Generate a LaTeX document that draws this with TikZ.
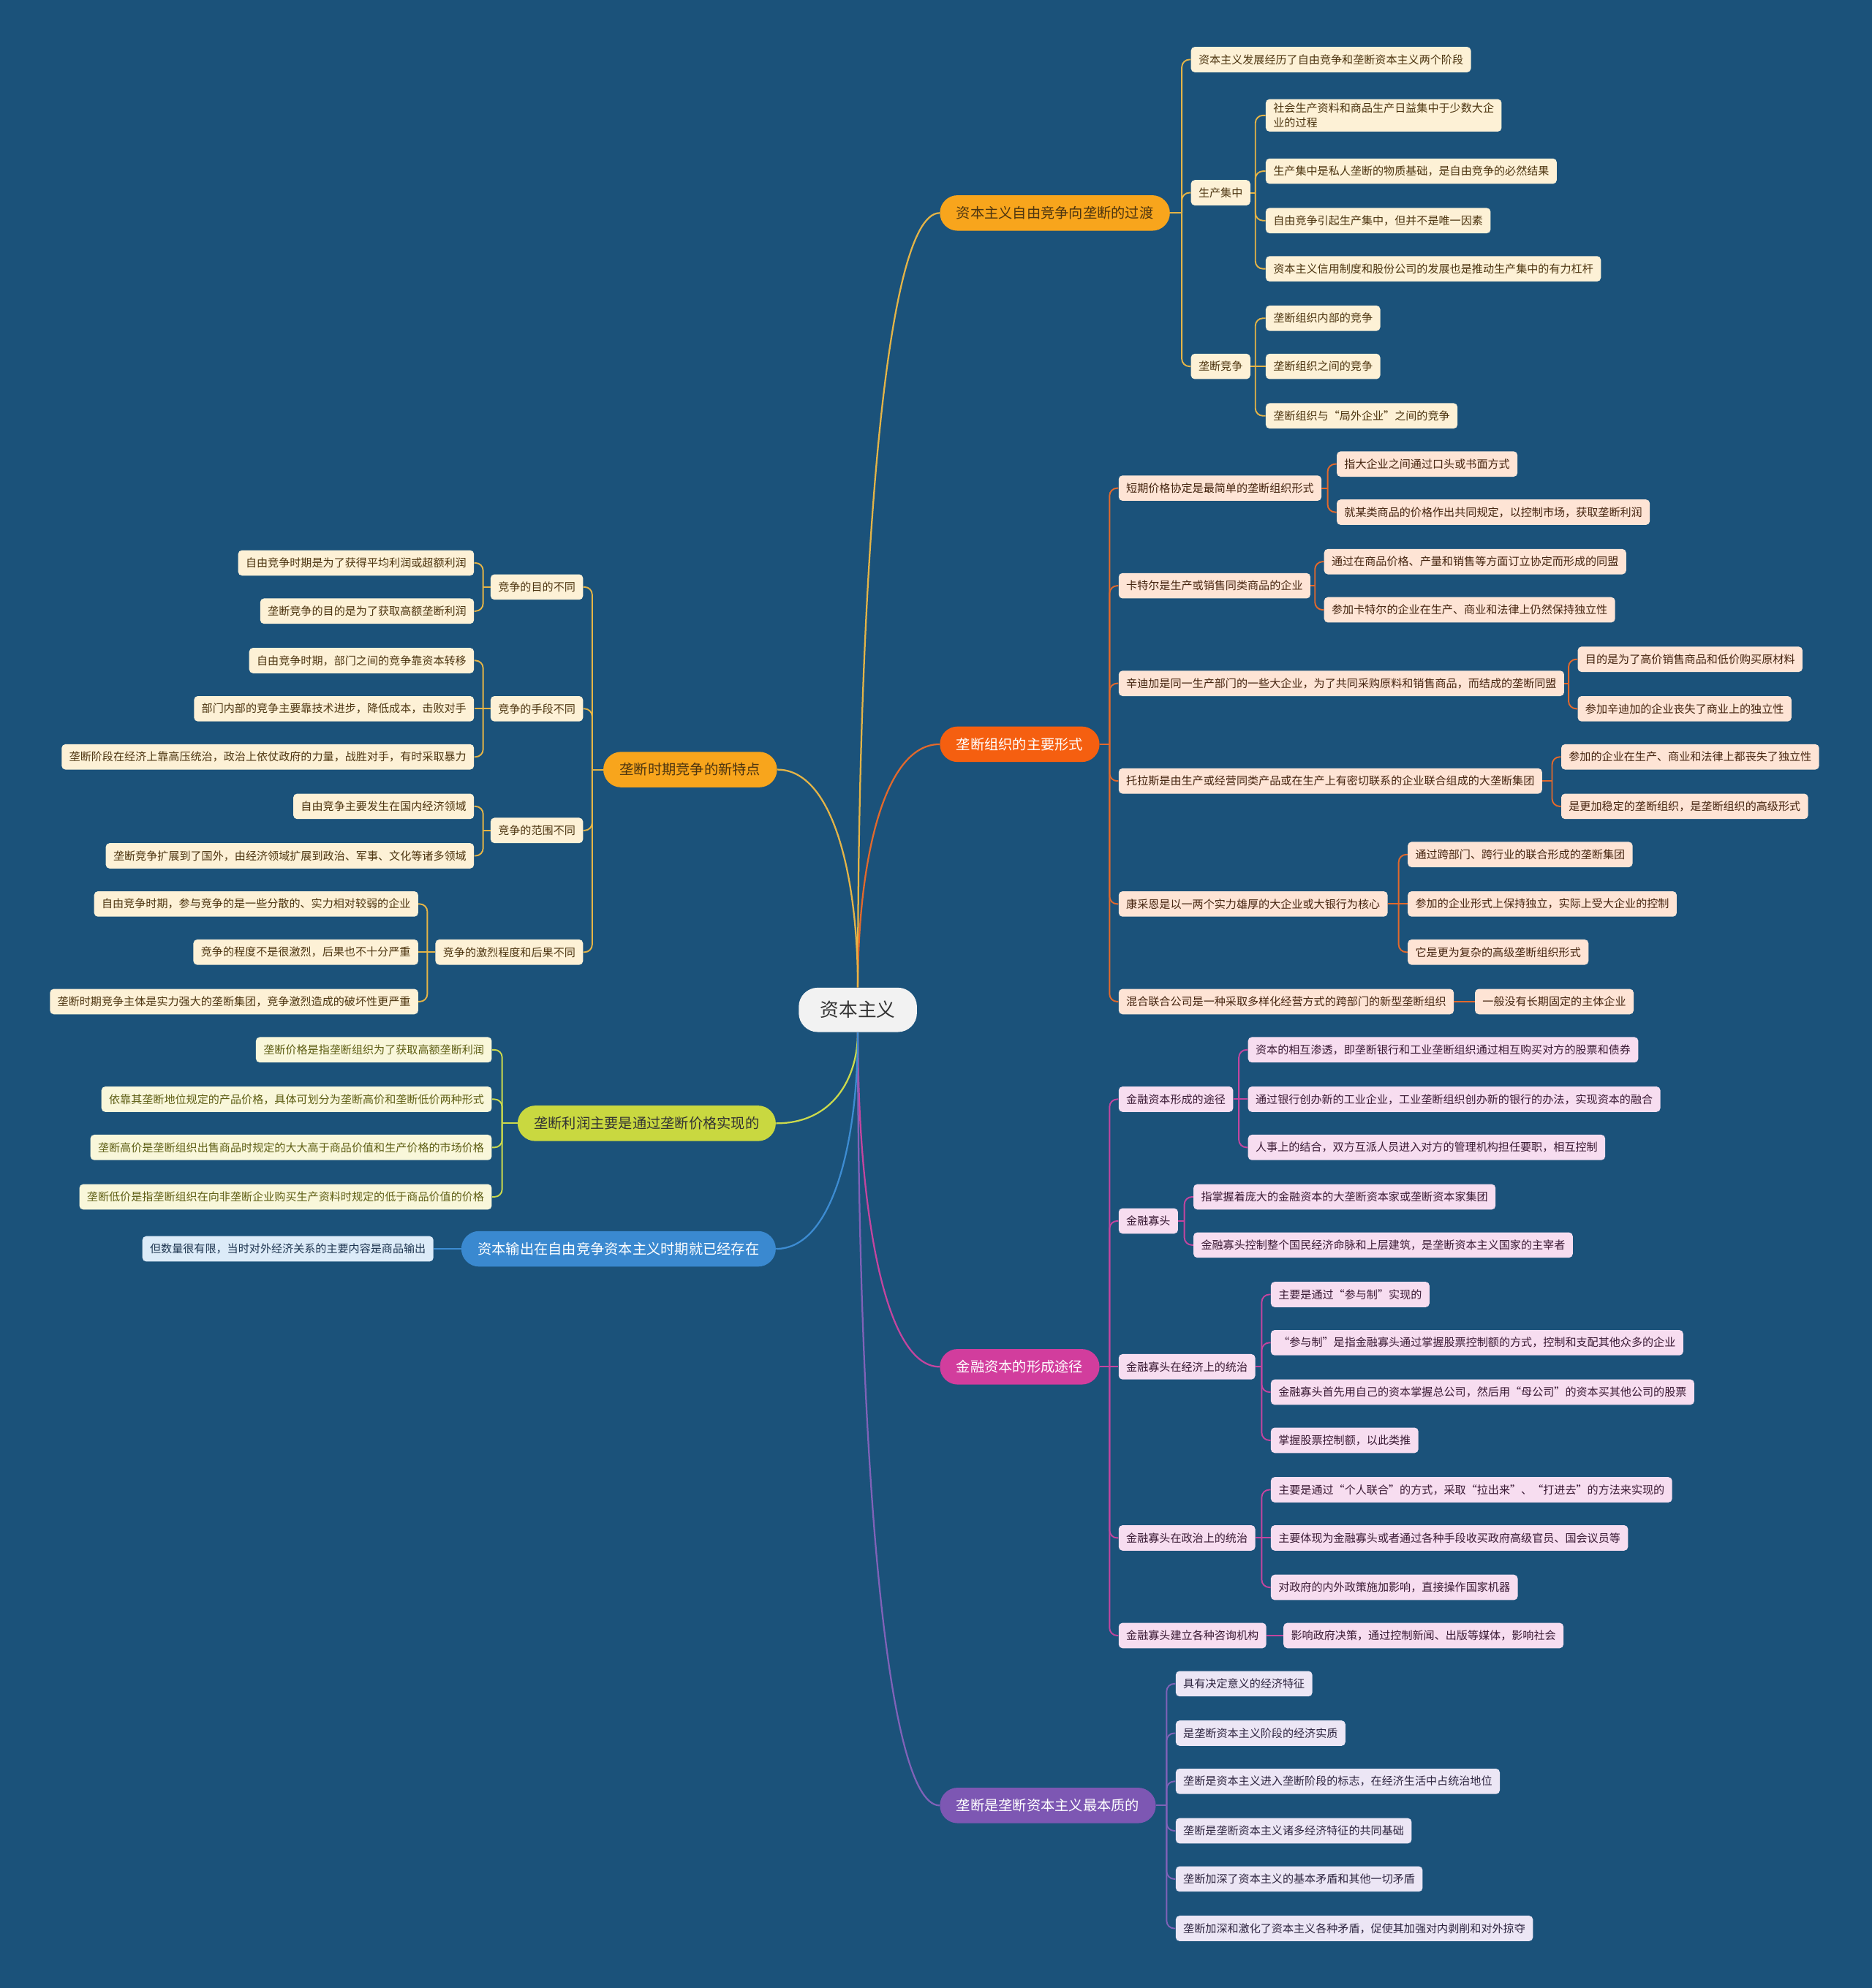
\documentclass[tikz,border=0pt]{standalone}
\usepackage{fontspec}
\newfontfamily\cjk{Noto Sans CJK SC}
\usetikzlibrary{calc}
\definecolor{bg}{HTML}{1B527A}
\definecolor{rootf}{HTML}{F2F2F2}
\definecolor{orf}{HTML}{F8A51C}
\definecolor{orl}{HTML}{E4B447}
\definecolor{orleaf}{HTML}{FDF1D6}
\definecolor{ortx}{HTML}{4D3510}
\definecolor{rdf}{HTML}{F55F10}
\definecolor{rdl}{HTML}{E2692C}
\definecolor{rdleaf}{HTML}{FEE4D5}
\definecolor{rdtx}{HTML}{45240F}
\definecolor{mgf}{HTML}{D23D9D}
\definecolor{mgl}{HTML}{C4459F}
\definecolor{mgleaf}{HTML}{F7DDF0}
\definecolor{mgtx}{HTML}{3A1A34}
\definecolor{puf}{HTML}{7D57B3}
\definecolor{pul}{HTML}{8062B8}
\definecolor{puleaf}{HTML}{ECE6F5}
\definecolor{putx}{HTML}{2E2540}
\definecolor{ygf}{HTML}{C9D840}
\definecolor{ygl}{HTML}{CCDA4C}
\definecolor{ygleaf}{HTML}{F9F7DA}
\definecolor{ygtx}{HTML}{5E5E14}
\definecolor{blf}{HTML}{3A89D0}
\definecolor{bll}{HTML}{3D8CD2}
\definecolor{blleaf}{HTML}{DCEBF8}
\definecolor{bltx}{HTML}{1E3550}
\tikzset{
  leaf/.style={rounded corners=3pt, minimum height=20pt, inner xsep=6pt, inner ysep=3pt,
    font=\cjk\fontsize{8.7pt}{11.5pt}\selectfont, align=left},
  mainb/.style={rounded corners=14pt, minimum height=28pt, inner xsep=13pt,
    font=\cjk\fontsize{11.1pt}{13pt}\selectfont},
  rootb/.style={rounded corners=15pt, minimum height=35pt, inner xsep=17pt, fill=rootf, text=black!80,
    font=\cjk\fontsize{14.8pt}{16pt}\selectfont},
  lkA/.style={draw=orl, line width=1.1pt},
  lkR/.style={draw=rdl, line width=1.1pt},
  lkM/.style={draw=mgl, line width=1.1pt},
  lkP/.style={draw=pul, line width=1.1pt},
  lkY/.style={draw=ygl, line width=1.1pt},
  lkB/.style={draw=bll, line width=1.1pt},
  mA/.style={mainb, fill=orf, text=ortx},
  mR/.style={mainb, fill=rdf, text=white},
  mM/.style={mainb, fill=mgf, text=white},
  mP/.style={mainb, fill=puf, text=white},
  mY/.style={mainb, fill=ygf, text=black!80},
  mB/.style={mainb, fill=blf, text=white},
  lA/.style={leaf, fill=orleaf, text=ortx},
  lR/.style={leaf, fill=rdleaf, text=rdtx},
  lM/.style={leaf, fill=mgleaf, text=mgtx},
  lP/.style={leaf, fill=puleaf, text=putx},
  lY/.style={leaf, fill=ygleaf, text=ygtx},
  lB/.style={leaf, fill=blleaf, text=bltx},
}
\newcommand\mytrunk[3]{\draw[#1, line width=1.3pt] let \p1=(#2), \p2=(#3) in (\p1) .. controls (\x1,{0.5*\y1+0.5*\y2}) and ({0.7*\x1+0.3*\x2},\y2) .. (\p2);}
\newcommand\kidR[4]{\draw[#1] (#2.east) -- (#2.east -| #3); \draw[#1,rounded corners=6pt] (#2.east -| #3) |- (#4.west);}
\newcommand\kidL[4]{\draw[#1] (#2.west) -- (#2.west -| #3); \draw[#1,rounded corners=6pt] (#2.west -| #3) |- (#4.east);}
\newcommand\kidSR[3]{\draw[#1] (#2.east) -- (#3.west);}
\newcommand\kidSL[3]{\draw[#1] (#2.west) -- (#3.east);}
\begin{document}
\begin{tikzpicture}[x=1pt,y=-1pt]
\fill[bg] (0,0) rectangle (1476,1568);
\useasboundingbox (0,0) rectangle (1476,1568);

% root
\node[rootb] (root) at (676.5,796.5) {资本主义};

% ===== Branch 1 =====
\node[mA, anchor=west] (b1) at (741,168) {资本主义自由竞争向垄断的过渡};
\node[lA, anchor=west] (a1) at (939,47) {资本主义发展经历了自由竞争和垄断资本主义两个阶段};
\node[lA, anchor=west] (a2) at (939,152) {生产集中};
\node[lA, anchor=west] (a3) at (939,289) {垄断竞争};
\node[lA, anchor=west] (a21) at (998,91) {社会生产资料和商品生产日益集中于少数大企\\业的过程};
\node[lA, anchor=west] (a22) at (998,135) {生产集中是私人垄断的物质基础，是自由竞争的必然结果};
\node[lA, anchor=west] (a23) at (998,174) {自由竞争引起生产集中，但并不是唯一因素};
\node[lA, anchor=west] (a24) at (998,212) {资本主义信用制度和股份公司的发展也是推动生产集中的有力杠杆};
\node[lA, anchor=west] (a31) at (998,251) {垄断组织内部的竞争};
\node[lA, anchor=west] (a32) at (998,289) {垄断组织之间的竞争};
\node[lA, anchor=west] (a33) at (998,328) {垄断组织与“局外企业”之间的竞争};

% ===== Branch 2 =====
\node[mR, anchor=west] (b2) at (741,587) {垄断组织的主要形式};
\node[lR, anchor=west] (c1) at (882,385) {短期价格协定是最简单的垄断组织形式};
\node[lR, anchor=west] (c11) at (1054,366) {指大企业之间通过口头或书面方式};
\node[lR, anchor=west] (c12) at (1054,404) {就某类商品的价格作出共同规定，以控制市场，获取垄断利润};
\node[lR, anchor=west] (c2) at (882,462) {卡特尔是生产或销售同类商品的企业};
\node[lR, anchor=west] (c21) at (1044,443) {通过在商品价格、产量和销售等方面订立协定而形成的同盟};
\node[lR, anchor=west] (c22) at (1044,481) {参加卡特尔的企业在生产、商业和法律上仍然保持独立性};
\node[lR, anchor=west] (c3) at (882,539) {辛迪加是同一生产部门的一些大企业，为了共同采购原料和销售商品，而结成的垄断同盟};
\node[lR, anchor=west] (c31) at (1244,520) {目的是为了高价销售商品和低价购买原材料};
\node[lR, anchor=west] (c32) at (1244,559) {参加辛迪加的企业丧失了商业上的独立性};
\node[lR, anchor=west] (c4) at (882,616) {托拉斯是由生产或经营同类产品或在生产上有密切联系的企业联合组成的大垄断集团};
\node[lR, anchor=west] (c41) at (1231,597) {参加的企业在生产、商业和法律上都丧失了独立性};
\node[lR, anchor=west] (c42) at (1231,636) {是更加稳定的垄断组织，是垄断组织的高级形式};
\node[lR, anchor=west] (c5) at (882,713) {康采恩是以一两个实力雄厚的大企业或大银行为核心};
\node[lR, anchor=west] (c51) at (1110,674) {通过跨部门、跨行业的联合形成的垄断集团};
\node[lR, anchor=west] (c52) at (1110,713) {参加的企业形式上保持独立，实际上受大企业的控制};
\node[lR, anchor=west] (c53) at (1110,751) {它是更为复杂的高级垄断组织形式};
\node[lR, anchor=west] (c6) at (882,790) {混合联合公司是一种采取多样化经营方式的跨部门的新型垄断组织};
\node[lR, anchor=west] (c61) at (1163,790) {一般没有长期固定的主体企业};

% ===== Branch 3 =====
\node[mM, anchor=west] (b3) at (741,1078) {金融资本的形成途径};
\node[lM, anchor=west] (d1) at (882,867) {金融资本形成的途径};
\node[lM, anchor=west] (d11) at (984,828) {资本的相互渗透，即垄断银行和工业垄断组织通过相互购买对方的股票和债券};
\node[lM, anchor=west] (d12) at (984,867) {通过银行创办新的工业企业，工业垄断组织创办新的银行的办法，实现资本的融合};
\node[lM, anchor=west] (d13) at (984,905) {人事上的结合，双方互派人员进入对方的管理机构担任要职，相互控制};
\node[lM, anchor=west] (d2) at (882,963) {金融寡头};
\node[lM, anchor=west] (d21) at (941,944) {指掌握着庞大的金融资本的大垄断资本家或垄断资本家集团};
\node[lM, anchor=west] (d22) at (941,982) {金融寡头控制整个国民经济命脉和上层建筑，是垄断资本主义国家的主宰者};
\node[lM, anchor=west] (d3) at (882,1078) {金融寡头在经济上的统治};
\node[lM, anchor=west] (d31) at (1002,1021) {主要是通过“参与制”实现的};
\node[lM, anchor=west] (d32) at (1002,1059) {“参与制”是指金融寡头通过掌握股票控制额的方式，控制和支配其他众多的企业};
\node[lM, anchor=west] (d33) at (1002,1098) {金融寡头首先用自己的资本掌握总公司，然后用“母公司”的资本买其他公司的股票};
\node[lM, anchor=west] (d34) at (1002,1136) {掌握股票控制额，以此类推};
\node[lM, anchor=west] (d4) at (882,1213) {金融寡头在政治上的统治};
\node[lM, anchor=west] (d41) at (1002,1175) {主要是通过“个人联合”的方式，采取“拉出来”、“打进去”的方法来实现的};
\node[lM, anchor=west] (d42) at (1002,1213) {主要体现为金融寡头或者通过各种手段收买政府高级官员、国会议员等};
\node[lM, anchor=west] (d43) at (1002,1252) {对政府的内外政策施加影响，直接操作国家机器};
\node[lM, anchor=west] (d5) at (882,1290) {金融寡头建立各种咨询机构};
\node[lM, anchor=west] (d51) at (1012,1290) {影响政府决策，通过控制新闻、出版等媒体，影响社会};

% ===== Branch 4 =====
\node[mP, anchor=west] (b4) at (741,1424) {垄断是垄断资本主义最本质的};
\node[lP, anchor=west] (e1) at (927,1328) {具有决定意义的经济特征};
\node[lP, anchor=west] (e2) at (927,1367) {是垄断资本主义阶段的经济实质};
\node[lP, anchor=west] (e3) at (927,1405) {垄断是资本主义进入垄断阶段的标志，在经济生活中占统治地位};
\node[lP, anchor=west] (e4) at (927,1444) {垄断是垄断资本主义诸多经济特征的共同基础};
\node[lP, anchor=west] (e5) at (927,1482) {垄断加深了资本主义的基本矛盾和其他一切矛盾};
\node[lP, anchor=west] (e6) at (927,1521) {垄断加深和激化了资本主义各种矛盾，促使其加强对内剥削和对外掠夺};

% ===== Branch 5 (left) =====
\node[mA, anchor=east] (b5) at (613,607) {垄断时期竞争的新特点};
\node[lA, anchor=east] (f1) at (460,463) {竞争的目的不同};
\node[lA, anchor=east] (f11) at (374,444) {自由竞争时期是为了获得平均利润或超额利润};
\node[lA, anchor=east] (f12) at (374,482) {垄断竞争的目的是为了获取高额垄断利润};
\node[lA, anchor=east] (f2) at (460,559) {竞争的手段不同};
\node[lA, anchor=east] (f21) at (374,521) {自由竞争时期，部门之间的竞争靠资本转移};
\node[lA, anchor=east] (f22) at (374,559) {部门内部的竞争主要靠技术进步，降低成本，击败对手};
\node[lA, anchor=east] (f23) at (374,597) {垄断阶段在经济上靠高压统治，政治上依仗政府的力量，战胜对手，有时采取暴力};
\node[lA, anchor=east] (f3) at (460,655) {竞争的范围不同};
\node[lA, anchor=east] (f31) at (374,636) {自由竞争主要发生在国内经济领域};
\node[lA, anchor=east] (f32) at (374,675) {垄断竞争扩展到了国外，由经济领域扩展到政治、军事、文化等诸多领域};
\node[lA, anchor=east] (f4) at (460,751) {竞争的激烈程度和后果不同};
\node[lA, anchor=east] (f41) at (330,713) {自由竞争时期，参与竞争的是一些分散的、实力相对较弱的企业};
\node[lA, anchor=east] (f42) at (330,751) {竞争的程度不是很激烈，后果也不十分严重};
\node[lA, anchor=east] (f43) at (330,790) {垄断时期竞争主体是实力强大的垄断集团，竞争激烈造成的破坏性更严重};

% ===== Branch 6 (left) =====
\node[mY, anchor=east] (b6) at (612,886) {垄断利润主要是通过垄断价格实现的};
\node[lY, anchor=east] (g1) at (388,828) {垄断价格是指垄断组织为了获取高额垄断利润};
\node[lY, anchor=east] (g2) at (388,867) {依靠其垄断地位规定的产品价格，具体可划分为垄断高价和垄断低价两种形式};
\node[lY, anchor=east] (g3) at (388,905) {垄断高价是垄断组织出售商品时规定的大大高于商品价值和生产价格的市场价格};
\node[lY, anchor=east] (g4) at (388,944) {垄断低价是指垄断组织在向非垄断企业购买生产资料时规定的低于商品价值的价格};

% ===== Branch 7 (left) =====
\node[mB, anchor=east] (b7) at (612,985) {资本输出在自由竞争资本主义时期就已经存在};
\node[lB, anchor=east] (h1) at (342,985) {但数量很有限，当时对外经济关系的主要内容是商品输出};

% ===== spines =====
\coordinate (sB1) at (932,0);
\coordinate (sA2) at (990,0);
\coordinate (sA3) at (990,0);
\coordinate (sB2) at (875,0);
\coordinate (sC1) at (1047,0);
\coordinate (sC2) at (1037,0);
\coordinate (sC3) at (1237,0);
\coordinate (sC4) at (1224,0);
\coordinate (sC5) at (1103,0);
\coordinate (sB3) at (875,0);
\coordinate (sD1) at (977,0);
\coordinate (sD2) at (934,0);
\coordinate (sD3) at (995,0);
\coordinate (sD4) at (995,0);
\coordinate (sB4) at (920,0);
\coordinate (sB5) at (467,0);
\coordinate (sF1) at (381,0);
\coordinate (sF2) at (381,0);
\coordinate (sF3) at (381,0);
\coordinate (sF4) at (337,0);
\coordinate (sB6) at (396,0);

% ===== trunks =====
\mytrunk{orl}{root.north}{b1.west}
\mytrunk{rdl}{root.north}{b2.west}
\mytrunk{mgl}{root.south}{b3.west}
\mytrunk{pul}{root.south}{b4.west}
\mytrunk{orl}{root.north}{b5.east}
\mytrunk{ygl}{root.south}{b6.east}
\mytrunk{bll}{root.south}{b7.east}

% ===== branch 1 links =====
\kidR{lkA}{b1}{sB1}{a1}
\kidR{lkA}{b1}{sB1}{a2}
\kidR{lkA}{b1}{sB1}{a3}
\kidR{lkA}{a2}{sA2}{a21}
\kidR{lkA}{a2}{sA2}{a22}
\kidR{lkA}{a2}{sA2}{a23}
\kidR{lkA}{a2}{sA2}{a24}
\kidR{lkA}{a3}{sA3}{a31}
\kidSR{lkA}{a3}{a32}
\kidR{lkA}{a3}{sA3}{a33}

% ===== branch 2 links =====
\kidR{lkR}{b2}{sB2}{c1}
\kidR{lkR}{b2}{sB2}{c2}
\kidR{lkR}{b2}{sB2}{c3}
\kidR{lkR}{b2}{sB2}{c4}
\kidR{lkR}{b2}{sB2}{c5}
\kidR{lkR}{b2}{sB2}{c6}
\kidR{lkR}{c1}{sC1}{c11}
\kidR{lkR}{c1}{sC1}{c12}
\kidR{lkR}{c2}{sC2}{c21}
\kidR{lkR}{c2}{sC2}{c22}
\kidR{lkR}{c3}{sC3}{c31}
\kidR{lkR}{c3}{sC3}{c32}
\kidR{lkR}{c4}{sC4}{c41}
\kidR{lkR}{c4}{sC4}{c42}
\kidR{lkR}{c5}{sC5}{c51}
\kidSR{lkR}{c5}{c52}
\kidR{lkR}{c5}{sC5}{c53}
\kidSR{lkR}{c6}{c61}

% ===== branch 3 links =====
\kidR{lkM}{b3}{sB3}{d1}
\kidR{lkM}{b3}{sB3}{d2}
\kidSR{lkM}{b3}{d3}
\kidR{lkM}{b3}{sB3}{d4}
\kidR{lkM}{b3}{sB3}{d5}
\kidR{lkM}{d1}{sD1}{d11}
\kidSR{lkM}{d1}{d12}
\kidR{lkM}{d1}{sD1}{d13}
\kidR{lkM}{d2}{sD2}{d21}
\kidR{lkM}{d2}{sD2}{d22}
\kidR{lkM}{d3}{sD3}{d31}
\kidR{lkM}{d3}{sD3}{d32}
\kidR{lkM}{d3}{sD3}{d33}
\kidR{lkM}{d3}{sD3}{d34}
\kidR{lkM}{d4}{sD4}{d41}
\kidSR{lkM}{d4}{d42}
\kidR{lkM}{d4}{sD4}{d43}
\kidSR{lkM}{d5}{d51}

% ===== branch 4 links =====
\kidR{lkP}{b4}{sB4}{e1}
\kidR{lkP}{b4}{sB4}{e2}
\kidR{lkP}{b4}{sB4}{e3}
\kidR{lkP}{b4}{sB4}{e4}
\kidR{lkP}{b4}{sB4}{e5}
\kidR{lkP}{b4}{sB4}{e6}

% ===== branch 5 links =====
\kidL{lkA}{b5}{sB5}{f1}
\kidL{lkA}{b5}{sB5}{f2}
\kidL{lkA}{b5}{sB5}{f3}
\kidL{lkA}{b5}{sB5}{f4}
\kidL{lkA}{f1}{sF1}{f11}
\kidL{lkA}{f1}{sF1}{f12}
\kidL{lkA}{f2}{sF2}{f21}
\kidSL{lkA}{f2}{f22}
\kidL{lkA}{f2}{sF2}{f23}
\kidL{lkA}{f3}{sF3}{f31}
\kidL{lkA}{f3}{sF3}{f32}
\kidL{lkA}{f4}{sF4}{f41}
\kidSL{lkA}{f4}{f42}
\kidL{lkA}{f4}{sF4}{f43}

% ===== branch 6 links =====
\kidL{lkY}{b6}{sB6}{g1}
\kidL{lkY}{b6}{sB6}{g2}
\kidL{lkY}{b6}{sB6}{g3}
\kidL{lkY}{b6}{sB6}{g4}

% ===== branch 7 link =====
\kidSL{lkB}{b7}{h1}
\end{tikzpicture}
\end{document}
